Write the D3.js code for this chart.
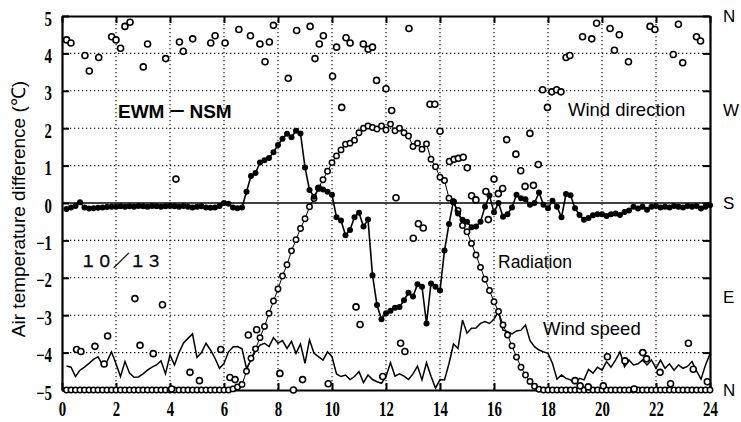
<!DOCTYPE html>
<html><head><meta charset="utf-8">
<script src="https://cdn.jsdelivr.net/npm/d3@7/dist/d3.min.js"></script>
<style>body{margin:0;background:#fff}</style>
</head><body><svg id="c" width="741" height="422"></svg>
<script>
// ---------- data ----------
const hourTicks = [0,2,4,6,8,10,12,14,16,18,20,22,24];
const tempTicks = [5,4,3,2,1,0,-1,-2,-3,-4,-5];
const dirLabels = ["N","W","S","E","N"];
const dirLabelDeg = [360,270,180,90,0];
const sampleMinutes = 10; // series below are 10-minute samples starting at 0:10

// Air temperature difference EWM - NSM (°C)
const tempDiff = [
-0.16,-0.12,-0.08,0.02,-0.12,-0.15,-0.14,-0.13,-0.12,-0.11,-0.10,-0.10,
-0.09,-0.10,-0.09,-0.10,-0.08,-0.09,-0.10,-0.08,-0.09,-0.10,-0.09,-0.08,
-0.09,-0.10,-0.08,-0.10,-0.12,-0.10,-0.09,-0.12,-0.13,-0.12,-0.08,0.00,
-0.02,-0.12,-0.14,-0.12,0.30,0.72,0.80,1.08,1.14,1.20,1.36,1.55,
1.72,1.85,1.76,1.93,1.86,0.95,0.35,0.17,0.38,0.36,0.30,0.22,
-0.38,-0.47,-0.86,-0.72,-0.38,-0.26,-0.63,-0.44,-1.93,-2.73,-3.11,-2.95,
-2.88,-2.80,-2.78,-2.60,-2.40,-2.50,-2.17,-2.24,-3.22,-2.15,-2.24,-2.34,
-1.27,-0.56,0.05,-0.28,-0.45,-0.50,-0.65,-0.63,-0.50,-0.10,0.20,-0.25,
0.00,-0.37,-0.30,-0.12,0.22,0.13,0.10,-0.05,0.00,0.28,-0.05,-0.14,
0.06,-0.10,-0.38,0.24,0.21,-0.14,-0.32,-0.45,-0.40,-0.33,-0.30,-0.30,
-0.35,-0.30,-0.28,-0.32,-0.24,-0.20,-0.10,-0.15,-0.10,-0.18,-0.10,-0.08,
-0.12,-0.10,-0.12,-0.08,-0.10,-0.12,-0.08,-0.10,-0.08,-0.15,-0.10,-0.06
];

// Radiation, as read on the left axis
const radiation = [
-5,-5,-5,-5,-5,-5,-5,-5,-5,-5,-5,-5,
-5,-5,-5,-5,-5,-5,-5,-5,-5,-5,-5,-5,
-5,-5,-5,-5,-5,-5,-5,-5,-5,-5,-5,-5,
-5,-4.97,-4.92,-4.85,-4.5,-4.15,-3.9,-3.6,-3.3,-2.95,-2.62,-2.3,
-1.95,-1.65,-1.28,-0.98,-0.68,-0.42,-0.1,0.12,0.4,0.62,0.85,1.08,
1.26,1.42,1.57,1.6,1.68,1.88,2.0,2.06,2.02,1.98,2.06,1.95,
2.11,1.93,2.0,1.88,1.79,1.51,1.6,1.44,1.58,1.17,0.97,0.69,
0.6,0.13,0.03,-0.2,-0.6,-0.77,-1.08,-1.39,-1.72,-2.04,-2.34,-2.64,
-2.9,-3.26,-3.53,-3.82,-4.12,-4.39,-4.6,-4.77,-4.9,-4.98,-5,-5,
-5,-5,-5,-5,-5,-5,-5,-5,-5,-5,-5,-5,
-5,-5,-5,-5,-5,-5,-5,-5,-5,-5,-5,-5,
-5,-5,-5,-5,-5,-5,-5,-5,-5,-5,-5,-5
];

// Wind speed, as read on the left axis
const windSpeed = [
-4.36,-4.39,-4.64,-4.47,-4.39,-4.29,-4.18,-4.11,-4.33,-4.24,-3.98,-4.30,
-4.64,-4.24,-4.55,-4.66,-4.65,-4.57,-4.47,-4.39,-4.33,-4.22,-4.57,-4.06,
-4.33,-4.00,-3.74,-3.62,-3.50,-4.13,-4.00,-3.75,-3.93,-4.15,-4.42,-4.29,
-3.98,-3.85,-3.84,-3.90,-4.42,-4.20,-3.95,-3.80,-3.75,-3.84,-3.60,-3.75,
-3.68,-3.89,-3.70,-4.02,-3.77,-4.29,-3.66,-4.02,-4.11,-4.20,-3.98,-4.11,
-4.57,-4.64,-4.60,-4.72,-4.64,-4.51,-4.80,-4.60,-4.72,-4.78,-4.82,-4.64,
-4.27,-4.63,-4.57,-4.63,-4.72,-4.57,-4.36,-4.73,-4.27,-4.63,-4.95,-4.72,
-4.73,-4.29,-3.77,-3.89,-3.13,-3.48,-3.35,-3.34,-3.22,-3.17,-3.22,-3.10,
-2.91,-3.40,-3.44,-3.50,-3.42,-3.40,-3.26,-3.68,-3.84,-3.93,-3.98,-4.02,
-4.29,-4.71,-4.60,-4.69,-4.73,-4.82,-4.69,-4.73,-4.45,-4.55,-4.39,-4.47,
-4.24,-4.39,-4.20,-3.98,-4.38,-4.20,-4.33,-4.30,-4.20,-4.33,-4.20,-4.42,
-4.20,-4.42,-4.30,-4.47,-4.33,-4.42,-4.37,-4.24,-4.49,-4.71,-4.33,-4.04
];

// Wind direction samples (hour, degrees from north)
const dirHours = [
0.17,0.33,0.54,0.70,0.85,1.01,1.22,1.36,1.56,1.69,1.84,2.00,2.17,2.33,2.52,2.70,2.89,3.01,3.17,3.38,
3.72,3.84,4.06,4.22,4.35,4.49,4.74,4.84,5.09,5.51,5.67,5.88,6.04,6.22,6.41,6.55,6.90,6.98,7.21,7.33,
7.52,7.68,7.83,8.07,8.38,8.57,8.69,8.91,9.19,9.37,9.53,9.68,9.86,10.02,10.17,10.36,10.52,10.67,10.89,11.04,
11.16,11.34,11.50,11.65,11.88,12.00,12.21,12.37,12.54,12.70,12.85,13.01,13.20,13.38,13.63,13.81,14.00,14.35,14.52,14.68,
14.86,15.01,15.17,15.33,15.70,15.79,16.00,16.16,16.32,16.47,16.81,16.99,17.15,17.33,17.46,17.64,17.80,17.98,18.14,18.32,
18.48,18.67,18.81,19.00,19.19,19.28,19.49,19.62,19.80,20.05,20.20,20.30,20.46,20.64,20.85,20.98,21.19,21.51,21.65,21.78,
21.96,22.15,22.54,22.64,22.83,22.99,23.20,23.38,23.50,23.65,23.90
];
const dirDegrees = [
337,334,39,37,322,307,42,320,25,52,340,337,329,350,354,88,43,311,333,35,
82,319,1,203,335,326,17,338,9,334,341,39,334,12,10,347,53,341,58,333,
316,335,351,16,300,0,346,10,350,319,333,341,6,302,330,272,339,334,80,63,
333,328,330,298,13,290,269,185,45,37,348,146,160,156,275,275,249,220,222,223,
224,214,187,183,191,164,203,189,194,241,227,211,196,247,197,217,289,272,287,289,
287,320,322,9,4,340,3,338,353,4,32,348,327,342,28,316,1,36,30,350,
347,17,6,323,352,315,45,20,340,336,8
];

// ---------- chart ----------
const svg = d3.select("#c");
const L = 62, R = 710, T = 16, B = 390;
const x = d3.scaleLinear().domain([0, 24]).range([L, R]);
const y = d3.scaleLinear().domain([-5, 5]).range([B, T]);
const yDir = d3.scaleLinear().domain([0, 360]).range([B, T]);
const times = tempDiff.map((_, i) => (i + 1) * sampleMinutes / 60);

// grid
const grid = svg.append("g").attr("stroke", "#000").attr("stroke-width", 1.1)
  .attr("stroke-dasharray", "1.3,2.7");
grid.selectAll("line.h").data(tempTicks.filter(d => d !== 0 && d !== 5 && d !== -5)).join("line")
  .attr("x1", L).attr("x2", R).attr("y1", d => y(d)).attr("y2", d => y(d));
grid.selectAll("line.v").data(hourTicks.filter(d => d > 0 && d < 24)).join("line")
  .attr("class", "v").attr("y1", T).attr("y2", B).attr("x1", d => x(d)).attr("x2", d => x(d));

// zero line
svg.append("line").attr("x1", L).attr("x2", R).attr("y1", y(0)).attr("y2", y(0))
  .attr("stroke", "#000").attr("stroke-width", 1.6);

// axes
function styleAxis(g) {
  g.select(".domain").attr("stroke", "#000").attr("stroke-width", 2.2);
  g.selectAll(".tick line").attr("stroke", "#000").attr("stroke-width", 2);
}
const fontNum = "'Liberation Serif', 'Times New Roman', serif";
const gl = svg.append("g").attr("transform", `translate(${L},0)`)
  .call(d3.axisLeft(y).tickValues(tempTicks).tickSizeInner(-7).tickSizeOuter(0).tickPadding(10));
styleAxis(gl);
gl.selectAll(".tick text").attr("x", null).attr("dy", null)
  .attr("transform", "translate(-10,9) scale(0.74,1)")
  .attr("font-family", fontNum).attr("font-size", 20).attr("font-weight", "bold")
  .attr("fill", "#000").attr("text-anchor", "end");

const gb = svg.append("g").attr("transform", `translate(0,${B})`)
  .call(d3.axisBottom(x).tickValues(hourTicks).tickSizeInner(-7).tickSizeOuter(0));
styleAxis(gb);
gb.selectAll(".tick text").attr("y", null).attr("dy", null)
  .attr("transform", "translate(0,26) scale(0.74,1)")
  .attr("font-family", fontNum).attr("font-size", 20).attr("font-weight", "bold")
  .attr("fill", "#000").attr("text-anchor", "middle");

const gt = svg.append("g").attr("transform", `translate(0,${T})`)
  .call(d3.axisTop(x).tickValues(hourTicks).tickSizeInner(-7).tickSizeOuter(0).tickFormat(""));
styleAxis(gt);
const gr = svg.append("g").attr("transform", `translate(${R},0)`)
  .call(d3.axisRight(y).tickValues(tempTicks).tickSizeInner(-7).tickSizeOuter(0).tickFormat(""));
styleAxis(gr);

// right-side direction labels
svg.append("g").selectAll("text").data(dirLabels).join("text")
  .attr("x", 723).attr("y", (d, i) => yDir(dirLabelDeg[i]) + 6)
  .attr("font-family", "'Liberation Sans', Arial, sans-serif").attr("font-size", 17)
  .text(d => d);

// y axis title
svg.append("text").attr("transform", "translate(25,209) rotate(-90)")
  .attr("text-anchor", "middle").attr("font-family", "'Liberation Sans', Arial, sans-serif")
  .attr("font-size", 19).text("Air temperature difference (℃)");

// wind speed line
svg.append("path").datum(windSpeed)
  .attr("d", d3.line().x((d, i) => x(times[i])).y(d => y(d)))
  .attr("fill", "none").attr("stroke", "#000").attr("stroke-width", 1.5);

// radiation line + circles
svg.append("path").datum(radiation)
  .attr("d", d3.line().x((d, i) => x(times[i])).y(d => y(d)))
  .attr("fill", "none").attr("stroke", "#000").attr("stroke-width", 1);
svg.append("g").selectAll("circle").data(radiation).join("circle")
  .attr("cx", (d, i) => x(times[i])).attr("cy", d => y(d)).attr("r", 2.7)
  .attr("fill", "#fff").attr("stroke", "#000").attr("stroke-width", 1.5);

// temperature difference line + filled dots
svg.append("path").datum(tempDiff)
  .attr("d", d3.line().x((d, i) => x(times[i])).y(d => y(d)))
  .attr("fill", "none").attr("stroke", "#000").attr("stroke-width", 1.6);
svg.append("g").selectAll("circle").data(tempDiff).join("circle")
  .attr("cx", (d, i) => x(times[i])).attr("cy", d => y(d)).attr("r", 3)
  .attr("fill", "#000");

// wind direction scatter
svg.append("g").selectAll("circle").data(dirDegrees).join("circle")
  .attr("cx", (d, i) => x(dirHours[i])).attr("cy", d => yDir(d)).attr("r", 3)
  .attr("fill", "#fff").attr("stroke", "#000").attr("stroke-width", 1.6);

// annotations
const sans = "'Liberation Sans', Arial, sans-serif";
const ewm = svg.append("text").attr("x", 118).attr("y", 118)
  .attr("font-family", sans).attr("font-weight", "bold").attr("font-size", 19);
ewm.append("tspan").text("EWM");
ewm.append("tspan").attr("font-family", "'Noto Sans CJK JP', sans-serif").attr("font-weight", "bold")
  .attr("dx", 3).text("－");
ewm.append("tspan").attr("dx", 3).text("NSM");
svg.append("text").attr("x", 568).attr("y", 116).attr("font-family", sans).attr("font-size", 18.5)
  .text("Wind direction");
svg.append("text").attr("x", 498).attr("y", 268).attr("font-family", sans).attr("font-size", 17.5)
  .text("Radiation");
svg.append("text").attr("x", 543).attr("y", 335).attr("font-family", sans).attr("font-size", 18.5)
  .text("Wind speed");
svg.append("text").attr("x", 80).attr("y", 267)
  .attr("font-family", "'Noto Sans CJK JP', sans-serif").attr("font-size", 16.5)
  .attr("fill", "#000").attr("stroke", "#000").attr("stroke-width", 0.4)
  .text("１０／１３");
</script></body></html>
